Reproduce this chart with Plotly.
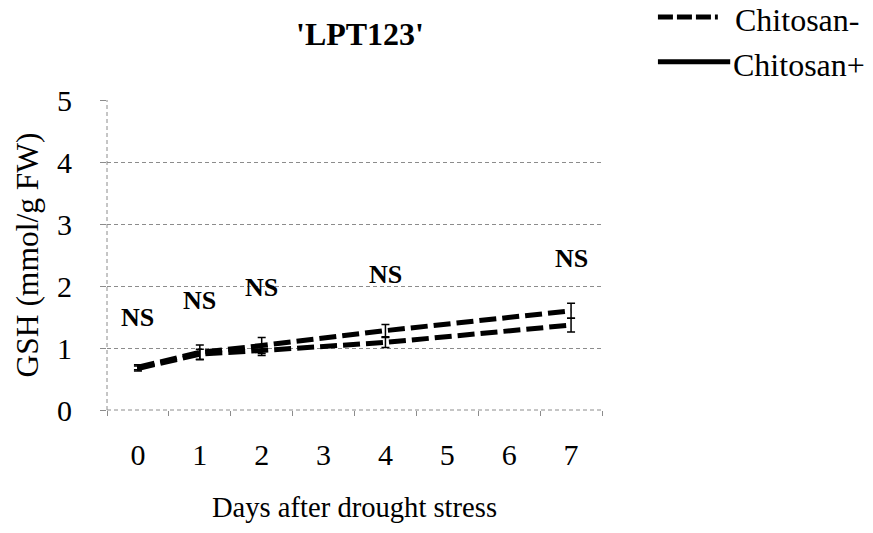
import plotly.graph_objects as go

# Days after drought stress (category index on the x axis)
days = [0, 1, 2, 4, 7]
day_labels = ["0", "1", "2", "3", "4", "5", "6", "7"]

# GSH (mmol/g FW)
chitosan_minus = [0.69, 0.93, 1.04, 1.28, 1.60]
chitosan_minus_err = [0.04, 0.12, 0.13, 0.10, 0.12]
chitosan_plus = [0.67, 0.90, 0.96, 1.09, 1.37]
chitosan_plus_err = [0.04, 0.08, 0.08, 0.08, 0.11]

# significance labels and their heights
ns_labels = ["NS", "NS", "NS", "NS", "NS"]
ns_y = [1.49, 1.77, 1.98, 2.18, 2.45]

series_names = ["Chitosan-", "Chitosan+"]

FONT = "Liberation Serif, Times New Roman, serif"
grid_col = "#8c8c8c"
line_dash = "17px,6px"

fig = go.Figure()

for vals, errs in [(chitosan_minus, chitosan_minus_err), (chitosan_plus, chitosan_plus_err)]:
    fig.add_trace(go.Scatter(
        x=days, y=vals, mode="lines",
        line=dict(color="black", width=5, dash=line_dash),
        error_y=dict(type="data", array=errs, color="black", thickness=1.5, width=4),
        showlegend=False
    ))

for d, lab, yv in zip(days, ns_labels, ns_y):
    fig.add_annotation(
        x=d, y=yv, text=lab, showarrow=False,
        font=dict(family=FONT, size=26, color="black", weight="bold")
    )

# hand-made legend (top right, outside the plot area)
fig.add_shape(type="line", xref="paper", yref="paper", x0=1.113, x1=1.234, y0=1.268, y1=1.268,
              line=dict(color="black", width=5, dash="15px,4px"))
fig.add_shape(type="line", xref="paper", yref="paper", x0=1.113, x1=1.259, y0=1.123, y1=1.123,
              line=dict(color="black", width=5))
fig.add_annotation(xref="paper", yref="paper", x=1.265, y=1.258, text=series_names[0],
                   showarrow=False, xanchor="left", yanchor="middle",
                   font=dict(family=FONT, size=32, color="black"))
fig.add_annotation(xref="paper", yref="paper", x=1.261, y=1.113, text=series_names[1],
                   showarrow=False, xanchor="left", yanchor="middle",
                   font=dict(family=FONT, size=32, color="black"))

fig.update_xaxes(
    range=[-0.5, 7.5], automargin=False,
    tickmode="array", tickvals=list(range(len(day_labels))), ticktext=day_labels,
    ticks="", showgrid=False, zeroline=False, showline=False,
    ticklabelstandoff=24,
    minor=dict(ticks="outside", tick0=-0.5, dtick=1, ticklen=5, tickcolor=grid_col, showgrid=False),
    tickfont=dict(family=FONT, size=30, color="black"),
    title=dict(text="Days after drought stress", font=dict(family=FONT, size=28.6, color="black"), standoff=26),
)
fig.update_yaxes(
    range=[0, 5], tickvals=[0, 1, 2, 3, 4, 5], automargin=False,
    ticks="outside", ticklen=6, tickcolor=grid_col,
    showgrid=True, gridcolor=grid_col, griddash="4px,3px", gridwidth=1,
    zeroline=False, showline=False,
    ticklabelstandoff=22,
    tickfont=dict(family=FONT, size=30, color="black"),
    title=dict(text="GSH (mmol/g FW)", font=dict(family=FONT, size=31.5, color="black"), standoff=8),
)

# dashed axis lines
fig.add_shape(type="line", xref="paper", yref="paper", x0=0, x1=0, y0=0, y1=1,
              line=dict(color=grid_col, width=1, dash="4px,3px"), layer="below")
fig.add_shape(type="line", xref="paper", yref="paper", x0=0, x1=1, y0=0, y1=0,
              line=dict(color=grid_col, width=1, dash="4px,3px"), layer="below")

fig.update_layout(
    width=873, height=533,
    margin=dict(l=107, r=271, t=100, b=123),
    plot_bgcolor="white", paper_bgcolor="white",
    showlegend=False,
    title=dict(text="'LPT123'", x=360 / 873, xanchor="center", y=1 - 34 / 533, yanchor="middle",
               font=dict(family=FONT, size=32, color="black", weight="bold")),
    font=dict(family=FONT, color="black"),
)

# the page body has a default 8px margin; drop it so the figure sits at the window corner
fig.write_html("out.html", config={"displayModeBar": False},
               post_script="document.body.style.margin='0';")
